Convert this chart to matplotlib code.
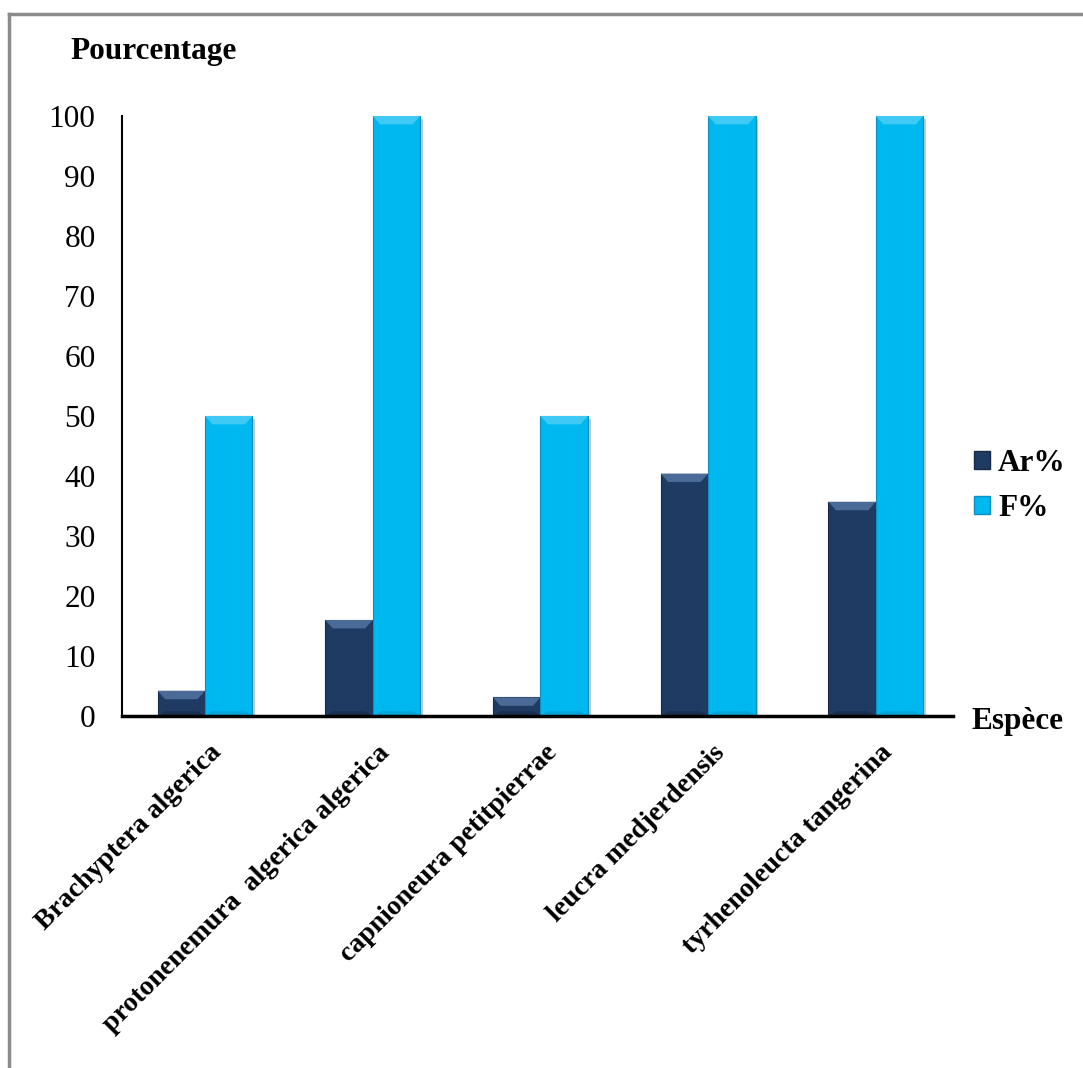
import numpy as np
import matplotlib.pyplot as plt
from matplotlib.patches import Polygon, Patch
from matplotlib.lines import Line2D
from matplotlib.transforms import ScaledTranslation
import matplotlib.patheffects as pe

# Espèces et pourcentages (abondance relative et fréquence)
especes = ['Brachyptera algerica', 'protonenemura  algerica algerica',
           'capnioneura petitpierrae', 'leucra medjerdensis', 'tyrhenoleucta tangerina']
ar_pct = [4.2, 16.0, 3.1, 40.4, 35.7]
f_pct = [50, 100, 50, 100, 100]
y_ticks = [0, 10, 20, 30, 40, 50, 60, 70, 80, 90, 100]

plt.rcParams['font.family'] = ['Liberation Serif', 'DejaVu Serif']

fig = plt.figure(figsize=(10.83, 10.68), dpi=100)
ax = fig.add_axes([122 / 1083, 1 - 716 / 1068, (953 - 122) / 1083, 600 / 1068])

x = np.arange(len(especes))
w = 0.283
c_ar, c_f = '#1f3b63', '#00b8f0'
ombre = [pe.SimplePatchShadow(offset=(2, -2), alpha=0.25), pe.Normal()]

bars_ar = ax.bar(x - w / 2, ar_pct, w, color=c_ar, edgecolor='#16294a', lw=0.8,
                 path_effects=ombre, zorder=2)
bars_f = ax.bar(x + w / 2, f_pct, w, color=c_f, edgecolor='#0a8fbf', lw=0.8,
                path_effects=ombre, zorder=2)

# Effet biseauté en haut et en bas de chaque barre
def biseau(bars, haut, bas):
    for b in bars:
        x0, x1 = b.get_x(), b.get_x() + b.get_width()
        y1 = b.get_height()
        d, h = 0.045, min(1.4, y1 / 2)
        ax.add_patch(Polygon([(x0, y1), (x1, y1), (x1 - d, y1 - h), (x0 + d, y1 - h)],
                             closed=True, color=haut, lw=0, zorder=3))
        hb = min(0.8, y1 / 3)
        ax.add_patch(Polygon([(x0, 0), (x1, 0), (x1 - d, hb), (x0 + d, hb)],
                             closed=True, color=bas, lw=0, zorder=3))

biseau(bars_ar, '#4a6a97', '#182f50')
biseau(bars_f, '#3fcaf6', '#04a6da')

ax.set_xlim(-0.495, 4.46)
ax.set_ylim(0, 100)
ax.set_yticks(y_ticks)
ax.set_yticklabels([str(v) for v in y_ticks], fontsize=22.5)
ax.tick_params(axis='y', length=0, pad=19)
ax.set_xticks([])
for s in ['top', 'right']:
    ax.spines[s].set_visible(False)
ax.spines['left'].set_linewidth(1.5)
ax.spines['bottom'].set_linewidth(2.5)
ax.spines['bottom'].set_zorder(4)

# Libellés des espèces inclinés à 45°
for i, nom in enumerate(especes):
    t = ax.transData + ScaledTranslation(0.13, -0.33, fig.dpi_scale_trans)
    ax.text(i, 0, nom, transform=t, rotation=45, rotation_mode='anchor',
            ha='right', va='center', fontsize=20, fontweight='bold')

fig.text(70 / 1083, 1 - 52 / 1068, 'Pourcentage', fontsize=22.5, fontweight='bold',
         ha='left', va='center')
fig.text(972 / 1083, 1 - 722 / 1068, 'Espèce', fontsize=22.5, fontweight='bold',
         ha='left', va='center')

handles = [Patch(facecolor=c_ar, edgecolor='#16294a'), Patch(facecolor=c_f, edgecolor='#0a8fbf')]
fig.legend(handles, ['Ar%', 'F%'], loc='center left', bbox_to_anchor=(974 / 1083, 1 - 486 / 1068),
           frameon=False, borderpad=0, borderaxespad=0, handlelength=0.52, handleheight=0.52,
           handletextpad=0.25, labelspacing=0.5, prop={'size': 22.5, 'weight': 'bold'})

# Cadre gris autour du graphique
fig.add_artist(Line2D([9 / 1083, 1.0], [1 - 14 / 1068] * 2, color='#8c8c8c', lw=2.5))
fig.add_artist(Line2D([9 / 1083] * 2, [0.0, 1 - 14 / 1068], color='#8c8c8c', lw=2.5))

fig.savefig('out.png', dpi=100)
